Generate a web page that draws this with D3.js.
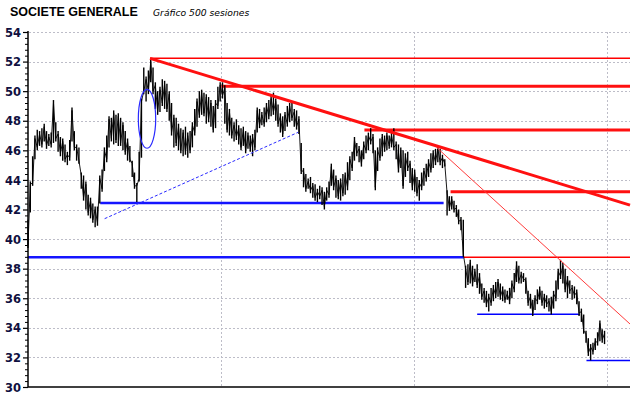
<!DOCTYPE html>
<html><head><meta charset="utf-8">
<script src="https://cdn.jsdelivr.net/npm/d3@7"></script>
<style>
html,body{margin:0;padding:0;background:#fff;}
svg{display:block;}
</style></head>
<body>
<svg id="c" width="640" height="398"></svg>
<script>
// ---- data ----
const title = "SOCIETE GENERALE";
const subtitle = "Gráfico 500 sesiones";
const yTicks = [30, 32, 34, 36, 38, 40, 42, 44, 46, 48, 50, 52, 54];
const xGrid = [0, 500/3, 1000/3, 500];
const sessionStep = 2;
// low / high of each 2-session step (500 sessions)
const lows = [
39.4,41.8,43.6,45.4,46.0,46.3,46.2,46.6,46.1,46.3,
46.2,46.5,46.6,45.9,45.6,45.3,45.2,45.0,45.3,46.6,
46.0,45.3,45.1,43.4,42.6,42.0,41.6,41.4,41.1,40.8,
40.9,42.4,43.2,44.6,45.2,46.2,46.6,46.4,46.5,46.3,
46.3,46.0,45.7,45.3,45.2,44.2,43.4,42.5,43.9,45.5,
49.8,49.3,49.8,50.6,49.8,48.8,48.4,48.6,49.0,48.8,
48.6,48.0,47.0,46.2,46.3,46.0,45.8,45.6,45.7,45.5,
45.8,46.2,47.0,47.6,48.2,48.4,48.3,47.8,47.9,47.6,
47.2,47.5,48.8,49.3,49.5,47.8,47.2,47.0,46.8,46.6,
46.7,46.4,46.0,46.3,45.8,46.1,45.9,45.6,46.0,47.2,
47.5,47.7,47.6,47.9,48.1,48.3,48.4,48.0,47.6,47.2,
46.9,47.3,47.6,47.9,48.0,47.6,47.4,47.1,44.4,43.5,
43.2,43.4,43.1,42.8,42.6,42.5,42.7,42.3,42.0,42.6,
42.8,43.6,43.3,42.8,42.7,42.6,42.9,43.0,43.3,44.0,
44.6,45.3,45.6,45.2,44.9,45.4,45.8,46.0,46.4,45.8,
43.3,44.6,45.3,45.6,45.9,46.0,46.1,46.2,46.0,45.4,
44.5,44.8,43.4,44.2,44.6,43.8,43.3,43.2,42.9,42.6,
43.3,43.6,43.9,44.2,44.5,44.8,45.0,45.2,45.0,44.8,
44.9,41.6,41.9,42.0,41.8,41.5,41.0,40.6,38.8,36.7,
36.9,37.0,36.8,37.1,36.7,36.3,35.9,35.7,35.4,35.1,
35.5,35.8,36.0,36.1,35.9,35.8,35.7,35.9,35.6,36.0,
36.4,37.1,37.0,37.0,37.1,36.3,35.5,35.3,34.8,35.2,
35.6,35.9,35.5,35.3,35.4,35.1,34.9,35.3,35.8,36.6,
37.3,37.0,36.4,36.0,36.3,35.9,36.0,35.6,34.8,34.4,
33.6,33.0,32.1,31.8,32.2,32.5,32.8,33.1,33.0,32.9
];
const highs = [
41.3,43.9,45.6,47.0,47.4,47.3,47.5,47.8,47.3,47.1,
47.2,49.4,47.9,47.3,46.9,46.8,46.4,45.9,46.7,48.9,
47.3,46.4,46.2,44.5,44.3,43.9,43.0,42.8,42.4,42.2,
42.2,44.3,44.7,46.2,47.0,48.3,48.2,48.7,48.4,48.5,
48.2,47.9,47.3,46.8,46.3,45.3,44.5,43.8,45.9,49.5,
51.6,51.0,51.4,52.2,51.6,50.6,50.0,50.3,50.8,50.7,
50.5,50.0,49.2,48.4,48.2,47.8,47.5,47.4,47.6,47.2,
47.3,47.9,48.8,49.5,50.0,50.1,49.9,49.8,49.6,49.4,
49.0,49.4,50.3,50.6,50.6,50.4,49.2,48.8,48.2,47.9,
48.1,47.7,47.5,47.6,47.3,47.2,47.0,47.1,47.4,48.9,
48.8,48.6,48.9,49.2,49.4,49.7,49.9,49.5,49.1,48.5,
48.3,48.6,49.0,49.2,49.3,48.8,48.7,48.3,46.5,44.8,
44.4,44.1,44.2,43.8,43.7,43.4,43.6,43.5,43.2,43.5,
43.9,45.1,44.7,44.3,44.0,44.1,44.4,44.5,45.2,45.6,
45.9,46.9,46.5,46.3,46.0,46.6,47.0,47.2,47.5,47.1,
46.0,46.2,46.8,47.1,47.0,47.2,47.0,47.2,47.5,46.6,
46.4,46.2,46.0,45.8,45.9,45.3,44.8,44.7,44.2,44.0,
44.5,44.8,45.1,45.4,45.8,46.0,46.1,46.3,46.1,45.7,
45.4,43.3,42.9,42.9,42.6,42.3,42.0,41.5,41.3,38.2,
38.3,38.6,38.2,38.0,38.3,37.7,37.0,36.7,36.5,36.3,
36.7,36.9,37.1,37.3,37.0,36.8,36.6,36.5,36.7,37.2,
37.7,38.5,38.2,37.8,37.7,37.4,36.5,36.3,35.9,36.2,
36.6,36.8,36.5,36.3,36.2,36.0,36.1,36.5,37.2,38.0,
38.6,38.4,38.0,37.5,37.2,36.9,36.8,36.6,35.8,35.3,
34.9,33.8,33.3,32.9,33.0,33.3,33.7,34.5,33.9,33.8
];
// horizontal levels: value, from session, to session, kind
const levelValues = [52.22, 50.33, 47.37, 43.20, 38.77, 42.44, 38.77, 34.91, 31.80];
const levelFrom   = [105.4, 167.0, 290.6, 365.0, 376.5, 62.4, 0, 388.0, 482.4];
const levelTo     = [520, 520, 520, 520, 520, 359.0, 376.5, 476.7, 520];
const levelKind   = ["redThin","redThick","redThick","redThick","redThin","blueThick","blueThick","blueThin","blueThin"];
// trend lines: [session, value] pairs
const trendFrom = [[105.4, 52.22], [352.9, 46.2], [66.2, 41.38]];
const trendTo   = [[520, 42.30], [520, 34.26], [233.4, 47.22]];
const trendKind = ["redThick", "redThinLight", "blueDashed"];
// ellipse: center session, center value, half-width (sessions), half-height (value)
const ellipseCenter = [102.8, 48.13];
const ellipseRadius = [7.5, 1.99];

// ---- drawing ----
const svg = d3.select("#c");
const x = d3.scaleLinear().domain([0, 520]).range([28, 630]);
const y = d3.scaleLinear().domain([30, 54]).range([387, 32]);

const styles = {
  redThin:      {stroke:"#ff0000", w:1.5},
  redThick:     {stroke:"#ff1010", w:3},
  redThinLight: {stroke:"#ff3b3b", w:1},
  blueThick:    {stroke:"#1515ff", w:2.6},
  blueThin:     {stroke:"#0000ff", w:1.5},
  blueDashed:   {stroke:"#2a2aff", w:1, dash:"3,2"}
};

// grid
const grid = svg.append("g");
grid.selectAll("line.h").data(yTicks.slice(1)).enter().append("line")
  .attr("x1", x(0)+1).attr("x2", 630)
  .attr("y1", d => Math.round(y(d))+0.5).attr("y2", d => Math.round(y(d))+0.5)
  .attr("stroke", "#bdbdc8").attr("stroke-width", 1).attr("stroke-dasharray", "2,2");
grid.selectAll("line.v").data(xGrid.slice(1)).enter().append("line")
  .attr("x1", d => Math.round(x(d))+0.5).attr("x2", d => Math.round(x(d))+0.5)
  .attr("y1", y(54)).attr("y2", y(30))
  .attr("stroke", "#bdbdc8").attr("stroke-width", 1).attr("stroke-dasharray", "2,2");

// level lines
const idx = d3.range(levelValues.length);
svg.append("g").selectAll("line").data(idx).enter().append("line")
  .attr("x1", i => x(levelFrom[i])).attr("x2", i => x(levelTo[i]))
  .attr("y1", i => y(levelValues[i])).attr("y2", i => y(levelValues[i]))
  .attr("stroke", i => styles[levelKind[i]].stroke)
  .attr("stroke-width", i => styles[levelKind[i]].w);

// price bars
const data = lows.map((lo, i) => ({s: i*sessionStep, lo, hi: highs[i]}));
const pg = svg.append("g");
pg.append("path")
  .attr("d", d3.line().x(d => x(d.s)).y((d, i) => y(i % 2 ? d.hi - 0.2 : d.lo + 0.2))(data))
  .attr("fill", "none").attr("stroke", "#000").attr("stroke-width", 0.9);
pg.selectAll("line").data(data).enter().append("line")
  .attr("x1", d => x(d.s)).attr("x2", d => x(d.s))
  .attr("y1", d => y(d.lo)).attr("y2", d => y(d.hi))
  .attr("stroke", "#000").attr("stroke-width", 1.4);

// trend lines
const tIdx = d3.range(trendFrom.length);
svg.append("g").selectAll("line").data(tIdx).enter().append("line")
  .attr("x1", i => x(trendFrom[i][0])).attr("y1", i => y(trendFrom[i][1]))
  .attr("x2", i => x(trendTo[i][0])).attr("y2", i => y(trendTo[i][1]))
  .attr("stroke", i => styles[trendKind[i]].stroke)
  .attr("stroke-width", i => styles[trendKind[i]].w)
  .attr("stroke-dasharray", i => styles[trendKind[i]].dash || null);

// ellipse
svg.append("ellipse")
  .attr("cx", x(ellipseCenter[0])).attr("cy", y(ellipseCenter[1]))
  .attr("rx", x(ellipseRadius[0]) - x(0))
  .attr("ry", y(ellipseCenter[1] - ellipseRadius[1]) - y(ellipseCenter[1]))
  .attr("fill", "none").attr("stroke", "#2a2aff").attr("stroke-width", 1.2);

// axes
const yAxis = d3.axisLeft(y).tickValues(yTicks).tickSize(5).tickPadding(2).tickFormat(d3.format("d"));
const ag = svg.append("g").attr("transform", `translate(${x(0)},0)`).call(yAxis);
ag.select(".domain").remove();
ag.selectAll(".tick line").attr("stroke", "#000").attr("stroke-width", 1.2);
ag.selectAll(".tick text").attr("font-family", "DejaVu Sans, Verdana, sans-serif")
  .attr("font-weight", "bold").attr("font-size", 11.5).attr("fill", "#101040").attr("dy", "0.36em");
const minorTicks = d3.range(30, 54.01, 0.4).filter(v => Math.abs(v/2 - Math.round(v/2)) > 0.01);
const minorAxis = d3.axisLeft(y).tickValues(minorTicks).tickSize(3).tickFormat("");
const mg = svg.append("g").attr("transform", `translate(${x(0)},0)`).call(minorAxis);
mg.select(".domain").remove();
mg.selectAll(".tick line").attr("stroke", "#000").attr("stroke-width", 1);

svg.append("line").attr("x1", x(0)).attr("x2", x(0)).attr("y1", y(54)-1).attr("y2", y(30))
  .attr("stroke", "#000").attr("stroke-width", 1.5);
svg.append("line").attr("x1", x(0)).attr("x2", 630).attr("y1", y(30)).attr("y2", y(30))
  .attr("stroke", "#000").attr("stroke-width", 1.6);

// titles
svg.append("text").attr("x", 10).attr("y", 16).text(title)
  .attr("font-family", "Liberation Sans, Arial, sans-serif").attr("font-weight", "bold")
  .attr("font-size", 12.5).attr("fill", "#000");
svg.append("text").attr("x", 153).attr("y", 16).text(subtitle)
  .attr("font-family", "DejaVu Sans, Verdana, sans-serif").attr("font-style", "italic")
  .attr("font-size", 9.2).attr("fill", "#000");
</script>
</body></html>
